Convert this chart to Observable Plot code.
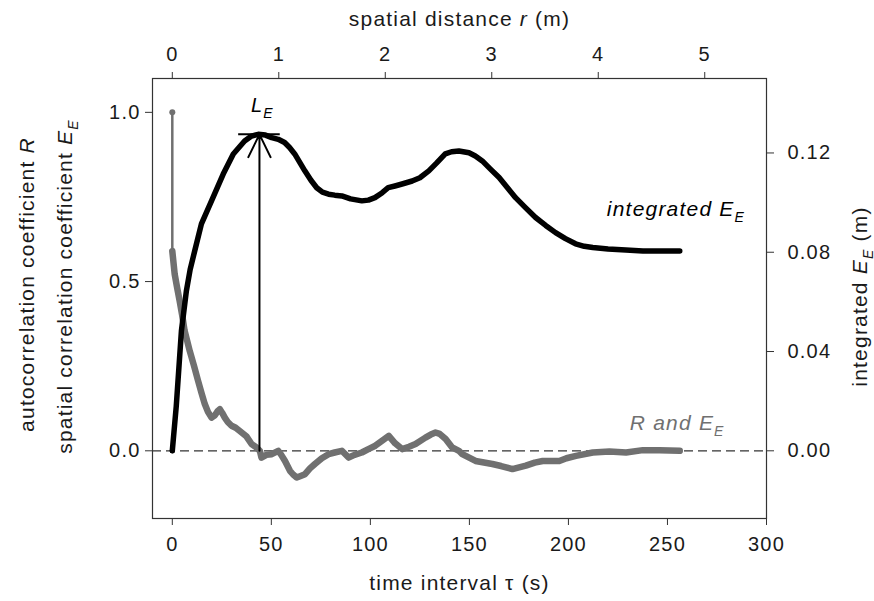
<!DOCTYPE html>
<html>
<head>
<meta charset="utf-8">
<script src="https://cdn.jsdelivr.net/npm/d3@7"></script>
<script src="https://cdn.jsdelivr.net/npm/@observablehq/plot@0.6"></script>
<style>
  html, body { margin: 0; padding: 0; background: #fff; }
</style>
</head>
<body>
<div id="chart"></div>
<script>
// ---- data ----
// grey curve: autocorrelation R / spatial correlation E_E vs time interval tau (s)
const tauR = [0, 0, 1.2, 2.5, 3.7, 5, 6.2, 7.5, 8.8, 11, 13, 14.8, 16.4, 18, 19.8, 21.5, 23, 24, 25.2, 26.5, 28, 29.9, 32, 35, 37.5, 40, 42, 44.2, 45, 47.5, 50.2, 53.5, 55, 56.9, 59.4, 61, 62.8, 64.5, 67, 69.5, 72, 75.5, 78.9, 82, 85.6, 89, 92, 95.7, 99, 102.5, 106, 109.3, 112.5, 116, 119.5, 122.8, 127.8, 130.5, 132.9, 135, 138, 141.3, 144.7, 146.4, 153.1, 161.6, 166, 171.7, 178.5, 183, 187, 195.4, 199, 203.8, 212.3, 220.7, 229.1, 237.6, 246, 256.2];
const Rvals = [1.0, 0.59, 0.522, 0.48, 0.443, 0.40, 0.355, 0.325, 0.295, 0.25, 0.207, 0.17, 0.138, 0.115, 0.098, 0.105, 0.118, 0.123, 0.112, 0.098, 0.085, 0.074, 0.068, 0.054, 0.042, 0.020, 0.012, 0.0, -0.02, -0.012, -0.01, 0.0, -0.012, -0.03, -0.059, -0.07, -0.079, -0.075, -0.069, -0.052, -0.039, -0.022, -0.01, -0.005, 0.0, -0.02, -0.012, -0.005, 0.005, 0.015, 0.03, 0.044, 0.022, 0.005, 0.012, 0.02, 0.039, 0.048, 0.054, 0.05, 0.035, 0.01, 0.0, -0.01, -0.03, -0.039, -0.045, -0.054, -0.044, -0.035, -0.03, -0.03, -0.022, -0.015, -0.005, -0.002, -0.005, 0.002, 0.002, 0.0];

// black curve: integrated E_E (m) vs tau (s)
const tauE = [0, 2, 4.6, 7.1, 9, 11.3, 14.7, 19.8, 25.7, 30.8, 36.5, 40, 43.4, 47, 50.2, 53.5, 56.7, 59.2, 61.8, 64.5, 66.9, 70, 72.9, 75.8, 78.9, 82, 85.6, 90, 95.7, 99, 102.3, 106, 109, 112.4, 116, 121.1, 125, 129.5, 133.5, 137.8, 141, 144.7, 149.8, 153, 156.5, 160.5, 165, 169, 173.3, 178.3, 183.4, 188.5, 193.5, 198.5, 203.6, 208, 212.3, 220, 229, 237.6, 246, 256.2];
const EEvals = [0, 0.018, 0.0483, 0.0644, 0.073, 0.0805, 0.0914, 0.1007, 0.1115, 0.1196, 0.1248, 0.1268, 0.1275, 0.1272, 0.1262, 0.1255, 0.1242, 0.1222, 0.1196, 0.1160, 0.1128, 0.1090, 0.1060, 0.1042, 0.1034, 0.1030, 0.1027, 0.1015, 0.1007, 0.1010, 0.1020, 0.1040, 0.1060, 0.1067, 0.1075, 0.1087, 0.1100, 0.1128, 0.1160, 0.1196, 0.1205, 0.1208, 0.1201, 0.1188, 0.1168, 0.1136, 0.1101, 0.1062, 0.1020, 0.0980, 0.0940, 0.0908, 0.0879, 0.0855, 0.0834, 0.0824, 0.0819, 0.0813, 0.0809, 0.0805, 0.0805, 0.0805];

// integral length scale marker
const LE_tau = 44;            // s
const LE_bar = [33.5, 54.5];  // extent of the horizontal bar (s)

// axes
const xTicks = [0, 50, 100, 150, 200, 250, 300];
const rTicks = [0, 1, 2, 3, 4, 5];          // m (top axis)
const leftTicks = [0, 0.5, 1.0];
const rightTicks = [0, 0.04, 0.08, 0.12];   // m (right axis)
const U = 0.0186;                           // m/s : r = U * tau
const leftDomain = [-0.2, 1.1];
const rightMax = 0.15;                      // right axis value at top of frame
const k = rightMax / leftDomain[1];         // right-axis units per left-axis unit

// ---- chart ----
const grey = "#707070";
const ink = "#1a1a1a";
const peak = d3.max(EEvals) / k;

const chart = Plot.plot({
  width: 874,
  height: 601,
  marginLeft: 152,
  marginRight: 108,
  marginTop: 78,
  marginBottom: 83,
  style: {
    fontFamily: "'Liberation Sans', Arial, sans-serif",
    fontSize: "20px",
    letterSpacing: "1.2px",
    background: "#fff",
    color: ink
  },
  x: {domain: [-10, 300], axis: null},
  y: {domain: leftDomain, axis: null},
  marks: [
    Plot.ruleY([0], {stroke: "#333", strokeWidth: 1.2, strokeDasharray: "9,5"}),
    // grey R / E_E curve
    Plot.line(Rvals.slice(0, 2), {x: tauR.slice(0, 2), y: Rvals.slice(0, 2), stroke: grey, strokeWidth: 2.5}),
    Plot.line(Rvals.slice(1), {x: tauR.slice(1), y: Rvals.slice(1), stroke: grey, strokeWidth: 6.5}),
    Plot.dot([Rvals[0]], {x: [tauR[0]], y: [Rvals[0]], r: 3, fill: grey}),
    // black integrated E_E
    Plot.line(EEvals, {x: tauE, y: EEvals.map(v => v / k), stroke: "#000", strokeWidth: 5.5}),
    Plot.dot([EEvals[0]], {x: [tauE[0]], y: [EEvals[0] / k], r: 2.5, fill: "#000"}),
    // L_E marker
    Plot.arrow([{t: LE_tau, a: 0, b: peak}], {x1: "t", y1: "a", x2: "t", y2: "b", stroke: "#000", strokeWidth: 2, headLength: 19, headAngle: 52}),
    Plot.ruleY([{v: peak, a: LE_bar[0], b: LE_bar[1]}], {y: "v", x1: "a", x2: "b", stroke: "#000", strokeWidth: 2}),
    Plot.text(["L_E_"], {x: LE_tau, y: 1.0, dx: 3, lineAnchor: "bottom", fontStyle: "italic", fontSize: 20, fill: "#000"}),
    // curve labels
    Plot.text(["integrated E_E_"], {x: 219.4, y: 0.694, textAnchor: "start", lineAnchor: "bottom", fontStyle: "italic", fontSize: 21, fill: "#000"}),
    Plot.text(["R and E_E_"], {x: 231, y: 0.062, textAnchor: "start", lineAnchor: "bottom", fontStyle: "italic", fontSize: 21, fill: grey}),
    // frame & axes
    Plot.frame({stroke: "#333", strokeWidth: 1.2}),
    Plot.axisX({anchor: "bottom", ticks: xTicks, tickSize: 7, tickPadding: 11, label: null, stroke: "#333", fontSize: 20}),
    Plot.axisX({anchor: "top", ticks: rTicks.map(r => r / U), tickFormat: d => String(Math.round(d * U)), tickSize: 7, tickPadding: 11, label: null, stroke: "#333", fontSize: 20}),
    Plot.axisY({anchor: "left", ticks: leftTicks, tickFormat: d => d.toFixed(1), tickSize: 7, tickPadding: 5, label: null, stroke: "#333", fontSize: 20}),
    Plot.axisY({anchor: "right", ticks: rightTicks.map(v => v / k), tickFormat: d => (d * k).toFixed(2), tickSize: 7, tickPadding: 14, label: null, stroke: "#333", fontSize: 20}),
    // axis titles
    Plot.text(["time interval τ (s)"], {frameAnchor: "bottom", dy: 71, lineAnchor: "bottom", textAnchor: "middle", fontSize: 21, fill: ink}),
    Plot.text(["spatial distance *r* (m)"], {frameAnchor: "top", dy: -53, lineAnchor: "bottom", textAnchor: "middle", fontSize: 21, fill: ink}),
    Plot.text(["autocorrelation coefficient *R*"], {frameAnchor: "left", dx: -119, dy: -14, rotate: -90, lineAnchor: "bottom", textAnchor: "middle", fontSize: 21, fill: ink}),
    Plot.text(["spatial correlation coefficient *E*_E_"], {frameAnchor: "left", dx: -81, dy: -12, rotate: -90, lineAnchor: "bottom", textAnchor: "middle", fontSize: 21, fill: ink}),
    Plot.text(["integrated *E*_E_ (m)"], {frameAnchor: "right", dx: 100, dy: -2, rotate: -90, lineAnchor: "bottom", textAnchor: "middle", fontSize: 21, fill: ink})
  ]
});

// turn *x* into italic and _x_ into italic subscript tspans
const NS = "http://www.w3.org/2000/svg";
chart.querySelectorAll("text").forEach(t => {
  const s = t.textContent;
  if (!/[*_]/.test(s)) return;
  const parts = s.split(/(\*[^*]+\*|_[^_]+_)/).filter(p => p.length);
  const base = parseFloat(t.getAttribute("font-size") || t.closest("[font-size]")?.getAttribute("font-size") || 20);
  const shift = Math.round(base * 0.28);
  t.textContent = "";
  let down = false;
  for (const p of parts) {
    const ts = document.createElementNS(NS, "tspan");
    if (p[0] === "*") {
      ts.textContent = p.slice(1, -1);
      ts.setAttribute("font-style", "italic");
      if (down) { ts.setAttribute("dy", -shift); down = false; }
    } else if (p[0] === "_") {
      ts.textContent = p.slice(1, -1);
      ts.setAttribute("font-style", "italic");
      ts.setAttribute("font-size", Math.round(base * 0.68));
      ts.setAttribute("dy", shift);
      down = true;
    } else {
      ts.textContent = p;
      if (down) { ts.setAttribute("dy", -shift); down = false; }
    }
    t.appendChild(ts);
  }
});

document.getElementById("chart").appendChild(chart);
</script>
</body>
</html>
